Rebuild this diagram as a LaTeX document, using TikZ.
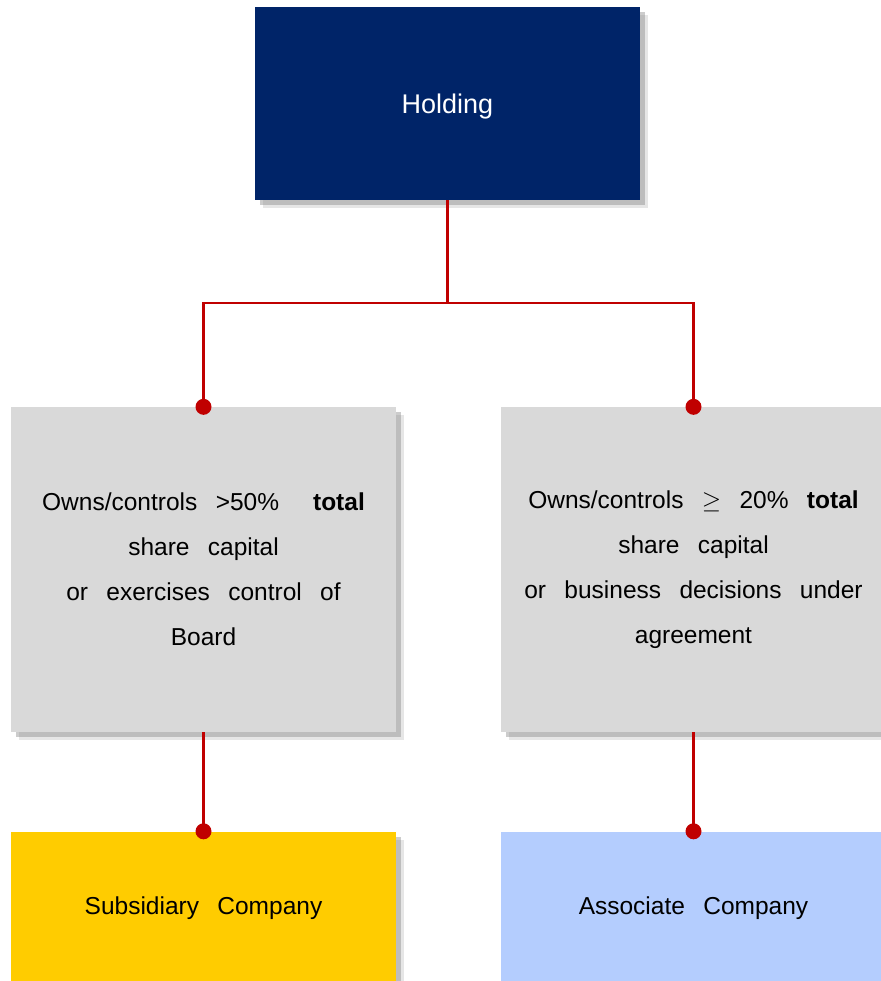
\documentclass[tikz,border=0pt]{standalone}
\usepackage{fontspec}
\setmainfont[WordSpace=2.7]{Liberation Sans}
\usetikzlibrary{shadows}

\definecolor{holdblue}{RGB}{0,36,104}
\definecolor{condgray}{RGB}{217,217,217}
\definecolor{subyellow}{RGB}{255,204,0}
\definecolor{assocblue}{RGB}{180,205,254}
\definecolor{linkred}{RGB}{192,0,0}

\begin{document}
\begin{tikzpicture}[x=1bp, y=-1bp,
		box/.style={minimum width=385bp, inner sep=0pt, align=center, text=black,
			font=\fontsize{24.5bp}{45bp}\selectfont,
			drop shadow={shadow xshift=8bp, shadow yshift=-8bp, opacity=0.2},
			drop shadow={shadow xshift=5bp, shadow yshift=-5bp, opacity=0.4}},
		link/.style={draw=linkred, line width=2.5bp},
		dot/.style={fill=linkred}]
		% Fix the page size
		\useasboundingbox (0,0) rectangle (881,981);

		% Draw the holding box
		\node[box, fill=holdblue, minimum height=193bp, text=white, text depth=0pt,
			font=\fontsize{27bp}{30bp}\selectfont] (hold) at (447.5,103.5) {Holding};

		% Draw the two conditions
		\node[box, fill=condgray, minimum height=325bp] (subcond) at (203.5,569.5)
			{Owns/controls >50\%\hspace{34bp}\textbf{total}\\share capital\\or exercises control of\\Board};
		\node[box, fill=condgray, minimum height=325bp] (assoccond) at (693.5,569.5)
			{Owns/controls $\smash{\geq}$ 20\% \textbf{total}\\share capital\\or business decisions under\\agreement};

		% Draw the two companies
		\node[box, fill=subyellow, minimum height=154bp] (sub) at (203.5,908.5) {Subsidiary Company};
		\node[box, fill=assocblue, minimum height=154bp] (assoc) at (693.5,908.5) {Associate Company};

		% Draw the connectors
		\coordinate (split) at (447.5,303);
		\draw[link] (hold.south) -- (split) -| (subcond.north);
		\draw[link] (split) -| (assoccond.north);
		\draw[link] (subcond.south) -- (sub.north);
		\draw[link] (assoccond.south) -- (assoc.north);

		% Draw the end dots
		\fill[dot] (subcond.north) circle (8bp);
		\fill[dot] (assoccond.north) circle (8bp);
		\fill[dot] (sub.north) circle (8bp);
		\fill[dot] (assoc.north) circle (8bp);

	\end{tikzpicture}
\end{document}
